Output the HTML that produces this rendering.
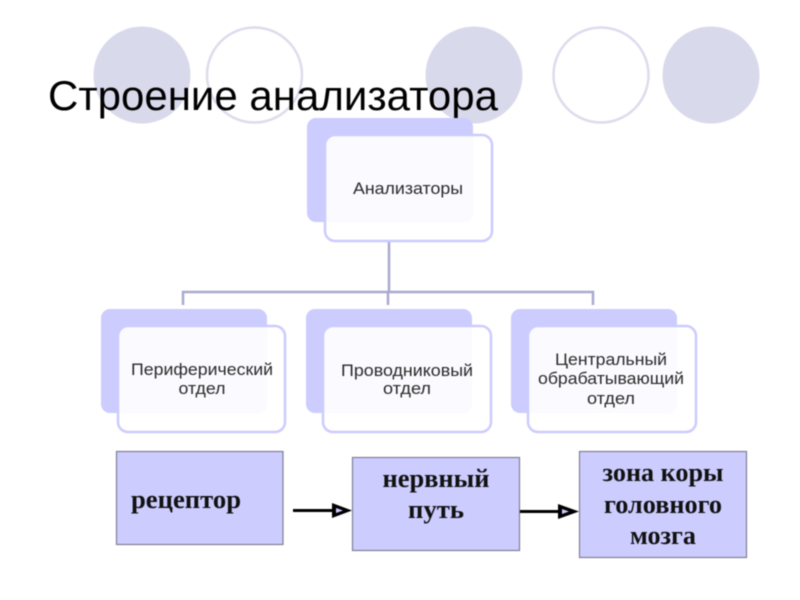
<!DOCTYPE html>
<html lang="ru"><head><meta charset="utf-8"><style>
html,body{margin:0;padding:0;background:#fff}
svg{display:block;filter:blur(.45px)}
.s{font-family:"Liberation Sans",sans-serif;fill:#2a2a2a}
.b{font-family:"Liberation Serif",serif;font-weight:bold;fill:#111;font-size:26px;text-anchor:middle}
.m{text-anchor:middle;font-size:17px}
</style></head><body>
<svg width="800" height="600" viewBox="0 0 800 600" xmlns="http://www.w3.org/2000/svg">
<rect width="800" height="600" fill="#fff"/>
<g fill="#d9d9ec">
<circle cx="142" cy="75" r="48.500"/><circle cx="474" cy="75" r="48.500"/><circle cx="711" cy="75" r="48.500"/>
</g>
<g fill="#fff" stroke="#dcdcee" stroke-width="2.500">
<circle cx="254.500" cy="75" r="47.500"/><circle cx="601" cy="75" r="47.500"/>
</g>
<text x="48" y="110" font-family="Liberation Sans, sans-serif" font-size="42" fill="#000" textLength="450" lengthAdjust="spacingAndGlyphs">Строение анализатора</text>

<g fill="none" stroke="#a9a9cf" stroke-width="2.500">
<path d="M389 240V292M183 305V292H593V305M388 292V305"/>
</g>

<g fill="#ccccff">
<rect x="307" y="118" width="166" height="104" rx="9"/>
<rect x="101" y="309" width="166" height="104" rx="9"/>
<rect x="306" y="309" width="166" height="104" rx="9"/>
<rect x="511" y="309" width="166" height="104" rx="9"/>
</g>
<g fill="#fff" fill-opacity=".9" stroke="#ccccff" stroke-width="2.500">
<rect x="325" y="135" width="167" height="106" rx="10"/>
<rect x="118" y="326" width="167" height="106" rx="10"/>
<rect x="323" y="326" width="168" height="106" rx="10"/>
<rect x="528" y="326" width="168" height="106" rx="10"/>
</g>

<text x="353" y="194" class="s" font-size="17" textLength="110" lengthAdjust="spacingAndGlyphs">Анализаторы</text>
<text class="s m" x="202" y="375" textLength="142" lengthAdjust="spacingAndGlyphs">Периферический</text>
<text class="s m" x="202" y="394" textLength="47" lengthAdjust="spacingAndGlyphs">отдел</text>
<text class="s m" x="407" y="376" textLength="132" lengthAdjust="spacingAndGlyphs">Проводниковый</text>
<text class="s m" x="407" y="394" textLength="48" lengthAdjust="spacingAndGlyphs">отдел</text>
<text class="s m" x="611" y="365" textLength="112" lengthAdjust="spacingAndGlyphs">Центральный</text>
<text class="s m" x="611" y="384" textLength="146" lengthAdjust="spacingAndGlyphs">обрабатывающий</text>
<text class="s m" x="611" y="404" textLength="48" lengthAdjust="spacingAndGlyphs">отдел</text>

<g fill="#ccccff" stroke="#7f7f96" stroke-width="1.200">
<rect x="116.500" y="451.500" width="166.500" height="93"/>
<rect x="352.500" y="457.500" width="167" height="93"/>
<rect x="579.500" y="451.500" width="167" height="106"/>
</g>

<g>
<path d="M293 510.500H334" stroke="#000" stroke-width="3" fill="none"/>
<path d="M332 503L352 510.500L332 518Z" fill="#000"/>
<path d="M336 508L343 510.500L336 513Z" fill="#ccccff"/>
<path d="M520 511.500H560" stroke="#000" stroke-width="3" fill="none"/>
<path d="M558 504L579 511.500L558 519Z" fill="#000"/>
<path d="M562 509L569 511.500L562 514Z" fill="#ccccff"/>
</g>

<text x="131" y="508" class="b" style="text-anchor:start" textLength="110" lengthAdjust="spacingAndGlyphs">рецептор</text>
<text x="436" y="487" class="b" textLength="107" lengthAdjust="spacingAndGlyphs">нервный</text>
<text x="436" y="518" class="b" textLength="56" lengthAdjust="spacingAndGlyphs">путь</text>
<text x="663" y="481" class="b" textLength="121" lengthAdjust="spacingAndGlyphs">зона коры</text>
<text x="663" y="513" class="b" textLength="118" lengthAdjust="spacingAndGlyphs">головного</text>
<text x="663" y="544" class="b" textLength="66" lengthAdjust="spacingAndGlyphs">мозга</text>
</svg>
</body></html>
